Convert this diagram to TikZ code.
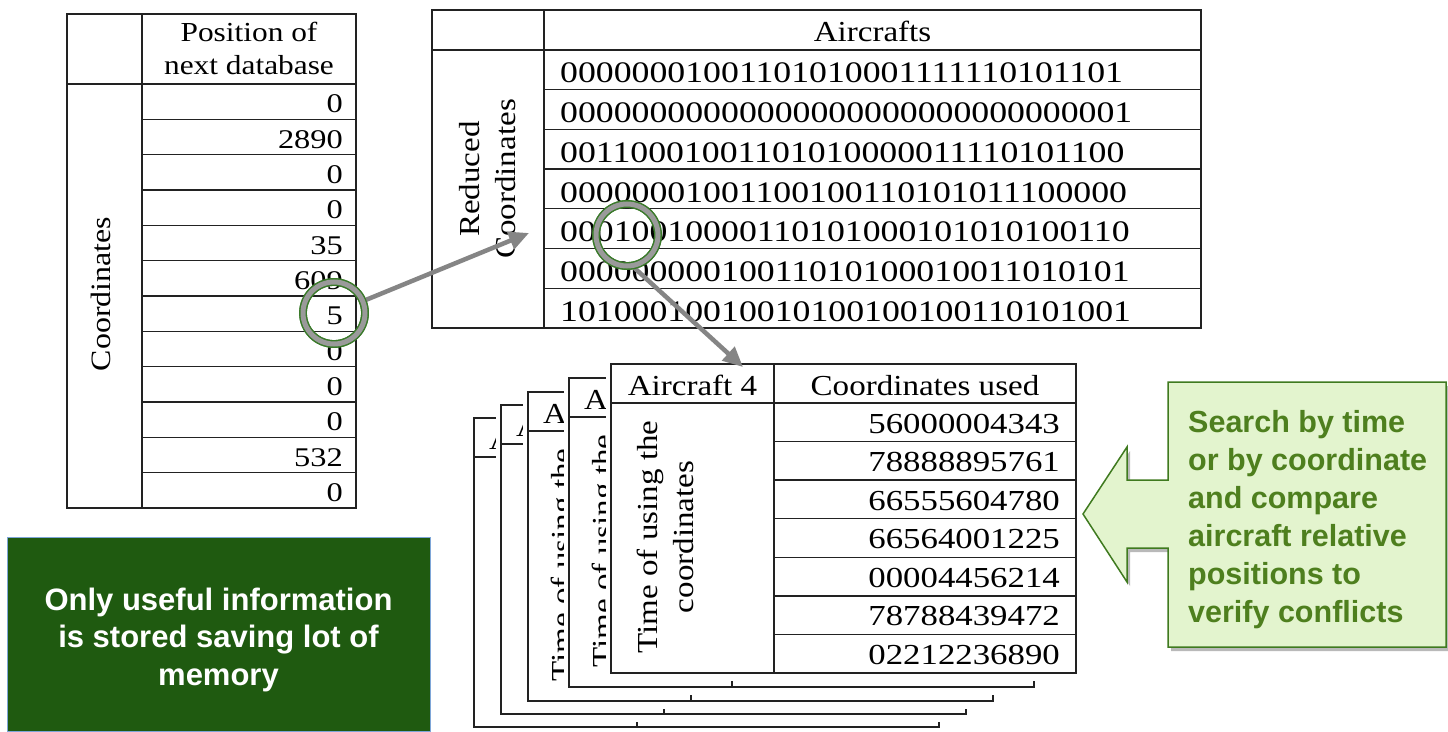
\documentclass[tikz,border=0pt]{standalone}
\usepackage{fontspec}
\setmainfont{Liberation Serif}[FakeStretch=1.14]
\newfontfamily\numfont{Liberation Serif}[FakeStretch=1.2]
\setsansfont{Liberation Sans}
\usetikzlibrary{arrows.meta}
\definecolor{gridline}{HTML}{222222}
\definecolor{darkbox}{HTML}{1F5A10}
\definecolor{boxedge}{HTML}{7EA6D8}
\definecolor{callfill}{HTML}{E3F4CE}
\definecolor{calledge}{HTML}{3F7A1F}
\definecolor{calltext}{HTML}{4E7F1E}
\definecolor{ringgrey}{HTML}{9A9A9A}
\definecolor{ringgreen}{HTML}{3A7A2A}
\definecolor{arrowgrey}{HTML}{858585}
\begin{document}
\begin{tikzpicture}[x=1bp,y=-1bp,
  grid/.style={draw=gridline,line width=1.3bp},
  hdr/.style={inner sep=0pt,font=\fontsize{29bp}{36bp}\selectfont},
  lhdr/.style={inner sep=0pt,font=\fontsize{27.5bp}{33bp}\selectfont,anchor=base},
  rot/.style={inner sep=0pt,rotate=90,align=center,font=\fontsize{29bp}{36bp}\selectfont},
  num/.style={inner sep=0pt,anchor=base east,font=\numfont\fontsize{27bp}{30bp}\selectfont},
  bin/.style={inner sep=0pt,anchor=base west,font=\numfont\fontsize{29.8bp}{30bp}\selectfont},
  used/.style={inner sep=0pt,anchor=base east,font=\numfont\fontsize{29bp}{30bp}\selectfont},
  ring/.style={circle,minimum size=62bp,inner sep=0pt,draw=ringgreen,line width=1.4bp,double=ringgrey,double distance=5bp},
  pointer/.style={draw=arrowgrey,line width=4.5bp,-{Triangle[length=20bp,width=18bp]}},
  saytext/.style={inner sep=0pt,align=left,text=calltext,font=\sffamily\bfseries\fontsize{30.5bp}{38bp}\selectfont}
]
\useasboundingbox (0,0) rectangle (1448,731);
\fill[white] (0,0) rectangle (1448,731);

% ---- green memo box
\node[draw=boxedge,fill=darkbox,line width=1bp,minimum width=423bp,minimum height=194bp,anchor=north west,inner sep=0pt] (memo) at (7,537) {};
\node[inner sep=0pt,align=center,text=white,anchor=north,font=\sffamily\bfseries\fontsize{31bp}{37.5bp}\selectfont] (memotext) at (218.5,587.5) {Only useful information\\is stored saving lot of\\memory};

% ---- left table
\draw[grid] (67,14) rectangle (356,508);
\draw[grid] (142,14) -- (142,508);
\draw[grid] (67,84) -- (356,84);
\foreach \i in {1,...,11} \draw[grid] (142,{84+\i*35.33}) -- (356,{84+\i*35.33});
\node[lhdr] (posA) at (249,42) {Position of};
\node[lhdr] (posB) at (249,75) {next database};
\node[inner sep=0pt,rotate=90,font=\fontsize{28bp}{33bp}\selectfont] (coordL) at (101,294) {Coordinates};
\foreach \v [count=\i from 0] in {0,2890,0,0,35,609,5,0,0,0,532,0}
  \node[num] (L\i) at (343,{84+\i*35.33+29}) {\v};

% ---- top table
\draw[grid] (432,10) rectangle (1201,328);
\draw[grid] (544,10) -- (544,328);
\draw[grid] (432,50) -- (1201,50);
\foreach \i in {1,...,6} \draw[grid] (544,{50+\i*39.71}) -- (1201,{50+\i*39.71});
\node[hdr,anchor=base] (airc) at (872.5,42) {Aircrafts};
\node[rot] (redc) at (488,179) {Reduced\\Coordinates};
\foreach \v [count=\i from 0] in {00000001001101010001111110101101,00000000000000000000000000000001,00110001001101010000011110101100,00000001001100100110101011100000,00010010000110101000101010100110,00000000010011010100010011010101,10100010010010100100100110101001}
  \node[bin] (B\i) at (560,{50+\i*39.71+33}) {\v};

% ---- stacked aircraft tables (back ones, mostly hidden)
\foreach \L/\T/\n in {474/418/0,501/405/1}{
  \fill[white] (\L-5,\T-2) rectangle (\L+467,\T+317);
  \draw[grid] (\L,\T) rectangle (\L+465,\T+309);
  \draw[grid] (\L,\T+39) -- (\L+465,\T+39);
  \draw[grid] (\L+163,\T) -- (\L+163,\T+309);
  \node[hdr,anchor=base west] (ac\n) at (\L+15,\T+31) {A};
}
\foreach \L/\T/\n in {528/392/2,569/378/3}{
  \fill[white] (\L-5,\T-2) rectangle (\L+467,\T+317);
  \draw[grid] (\L,\T) rectangle (\L+465,\T+309);
  \draw[grid] (\L,\T+39) -- (\L+465,\T+39);
  \draw[grid] (\L+163,\T) -- (\L+163,\T+309);
  \node[hdr,anchor=base west] (ac\n) at (\L+15,\T+31) {Ai};
  \node[rot] (tm\n) at (\L+36,\T+173) {Time of using the};
}

% ---- front table
\fill[white] (606,362) rectangle (1078,681);
\draw[grid] (611,364) rectangle (1076,673);
\draw[grid] (611,403) -- (1076,403);
\draw[grid] (774,364) -- (774,673);
\foreach \i in {1,...,6} \draw[grid] (774,{403+\i*38.57}) -- (1076,{403+\i*38.57});
\node[hdr,anchor=base] (ac4) at (692.5,395) {Aircraft 4};
\node[hdr,anchor=base] (cused) at (925,395) {Coordinates used};
\node[rot] (tm4) at (665,537) {Time of using the\\coordinates};
\foreach \v [count=\i from 0] in {56000004343,78888895761,66555604780,66564001225,00004456214,78788439472,02212236890}
  \node[used] (U\i) at (1060,{403+\i*38.57+30}) {\v};

% ---- callout arrow
\begin{scope}[shift={(3,4)}]
\fill[gray!55] (1168,382) -- (1446,382) -- (1446,647) -- (1168,647) -- (1168,548) -- (1127,548) -- (1127,582) -- (1083,514) -- (1127,447) -- (1127,480) -- (1168,480) -- cycle;
\end{scope}
\draw[draw=calledge,fill=callfill,line width=1.5bp] (1168,382) -- (1446,382) -- (1446,647) -- (1168,647) -- (1168,548) -- (1127,548) -- (1127,582) -- (1083,514) -- (1127,447) -- (1127,480) -- (1168,480) -- cycle;
\node[saytext,anchor=north west] (say) at (1188,410) {Search by time\\or by coordinate\\and compare\\aircraft relative\\positions to\\verify conflicts};

% ---- pointers and rings
\node[ring] (c1) at (334,313) {};
\node[ring] (c2) at (627,235) {};
\coordinate (t1) at (529,233);
\coordinate (t2) at (743,367);
\draw[pointer] (c1) -- (t1);
\draw[pointer] (c2.-80) -- (t2);
\node[ring] at (c1) {};
\node[ring] at (c2) {};
\end{tikzpicture}
\end{document}
